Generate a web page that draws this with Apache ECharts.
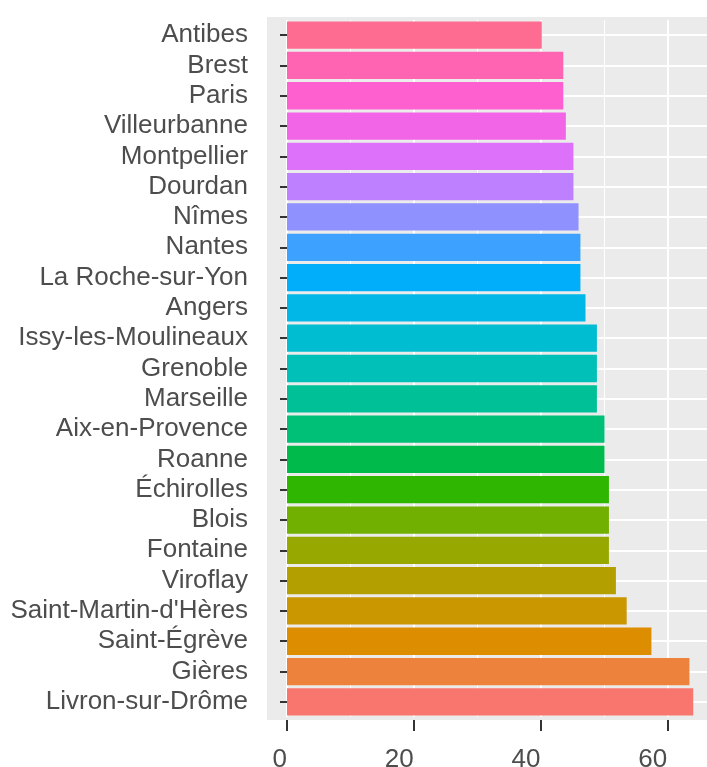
<!DOCTYPE html>
<html>
<head>
<meta charset="utf-8">
<script src="https://cdn.jsdelivr.net/npm/echarts@6/dist/echarts.min.js"></script>
<style>
  html, body { margin: 0; padding: 0; background: #fff; }
  #chart { width: 707px; height: 767px; }
</style>
</head>
<body>
<div id="chart"></div>
<script>
// top to bottom, as in the picture
const cities = [
  "Antibes", "Brest", "Paris", "Villeurbanne", "Montpellier", "Dourdan",
  "Nîmes", "Nantes", "La Roche-sur-Yon", "Angers", "Issy-les-Moulineaux",
  "Grenoble", "Marseille", "Aix-en-Provence", "Roanne", "Échirolles",
  "Blois", "Fontaine", "Viroflay", "Saint-Martin-d'Hères", "Saint-Égrève",
  "Gières", "Livron-sur-Drôme"
];
const values = [
  40.2, 43.6, 43.6, 44.0, 45.2, 45.2,
  46.0, 46.3, 46.3, 47.1, 48.9,
  48.9, 48.9, 50.1, 50.1, 50.8,
  50.8, 50.8, 51.9, 53.6, 57.5,
  63.5, 64.1
];
const xTicks = [0, 20, 40, 60];

// ggplot2 default hue palette (hcl, c = 100, l = 65)
function hcl(h, c, l) {
  const Xn = 95.047, Yn = 100, Zn = 108.883;
  const rad = h * Math.PI / 180;
  const u = c * Math.cos(rad), v = c * Math.sin(rad);
  const Y = Yn * Math.pow((l + 16) / 116, 3);
  const t = Xn + 15 * Yn + 3 * Zn;
  const up = u / (13 * l) + 4 * Xn / t;
  const vp = v / (13 * l) + 9 * Yn / t;
  const X = 9 * Y * up / (4 * vp);
  const Z = -X / 3 - 5 * Y + 3 * Y / vp;
  const lin = [
    3.240479 * X - 1.537150 * Y - 0.498535 * Z,
    -0.969256 * X + 1.875992 * Y + 0.041556 * Z,
    0.055648 * X - 0.204043 * Y + 1.057311 * Z
  ];
  return "#" + lin.map(x => {
    x = Math.min(1, Math.max(0, x / 100));
    x = x <= 0.0031308 ? 12.92 * x : 1.055 * Math.pow(x, 1 / 2.4) - 0.055;
    return Math.round(x * 255).toString(16).padStart(2, "0");
  }).join("");
}
const n = cities.length;
const palette = cities.map((c, i) => hcl(15 + (n - 1 - i) * 360 / n, 100, 65));

const font = "Liberation Sans, Arial, sans-serif";
const chart = echarts.init(document.getElementById("chart"));

chart.setOption({
  animation: false,
  backgroundColor: "#fff",
  graphic: [{
    type: "rect",
    z: -10,
    silent: true,
    shape: { x: 267, y: 17, width: 440, height: 703 },
    style: { fill: "#EBEBEB" }
  }],
  grid: { left: 287, top: 20, width: 507, height: 697, outerBoundsMode: "none", containLabel: false },
  xAxis: {
    type: "value",
    min: 0,
    max: 80,
    interval: 20,
    offset: 3,
    axisLine: { show: false },
    axisTick: { show: true, length: 11, lineStyle: { color: "#333", width: 2 } },
    axisLabel: {
      margin: 27,
      fontSize: 26,
      fontFamily: font,
      color: "#4d4d4d",
      align: "right",
      formatter: v => (xTicks.includes(v) ? String(v) : "")
    },
    splitLine: { show: true, lineStyle: { color: "#fff", width: 2 } },
    minorTick: { show: false, splitNumber: 2 },
    minorSplitLine: { show: true, lineStyle: { color: "#fff", width: 1 } }
  },
  yAxis: {
    type: "category",
    inverse: true,
    data: cities,
    offset: 20,
    axisLine: { show: false },
    axisTick: { show: true, interval: 0, alignWithLabel: true, length: 7, lineStyle: { color: "#333", width: 2 } },
    axisLabel: {
      interval: 0,
      margin: 19,
      fontSize: 26,
      fontFamily: font,
      color: "#4d4d4d",
      padding: [0, 0, 8, 0]
    },
    splitLine: { show: false }
  },
  series: [{
    type: "bar",
    data: values,
    barCategoryGap: "10%",
    itemStyle: { color: p => palette[p.dataIndex] },
    markLine: {
      silent: true,
      z: 1,
      symbol: "none",
      label: { show: false },
      lineStyle: { color: "#fff", width: 2, type: "solid" },
      data: cities.map(c => ({ yAxis: c }))
    }
  }]
});
</script>
</body>
</html>
